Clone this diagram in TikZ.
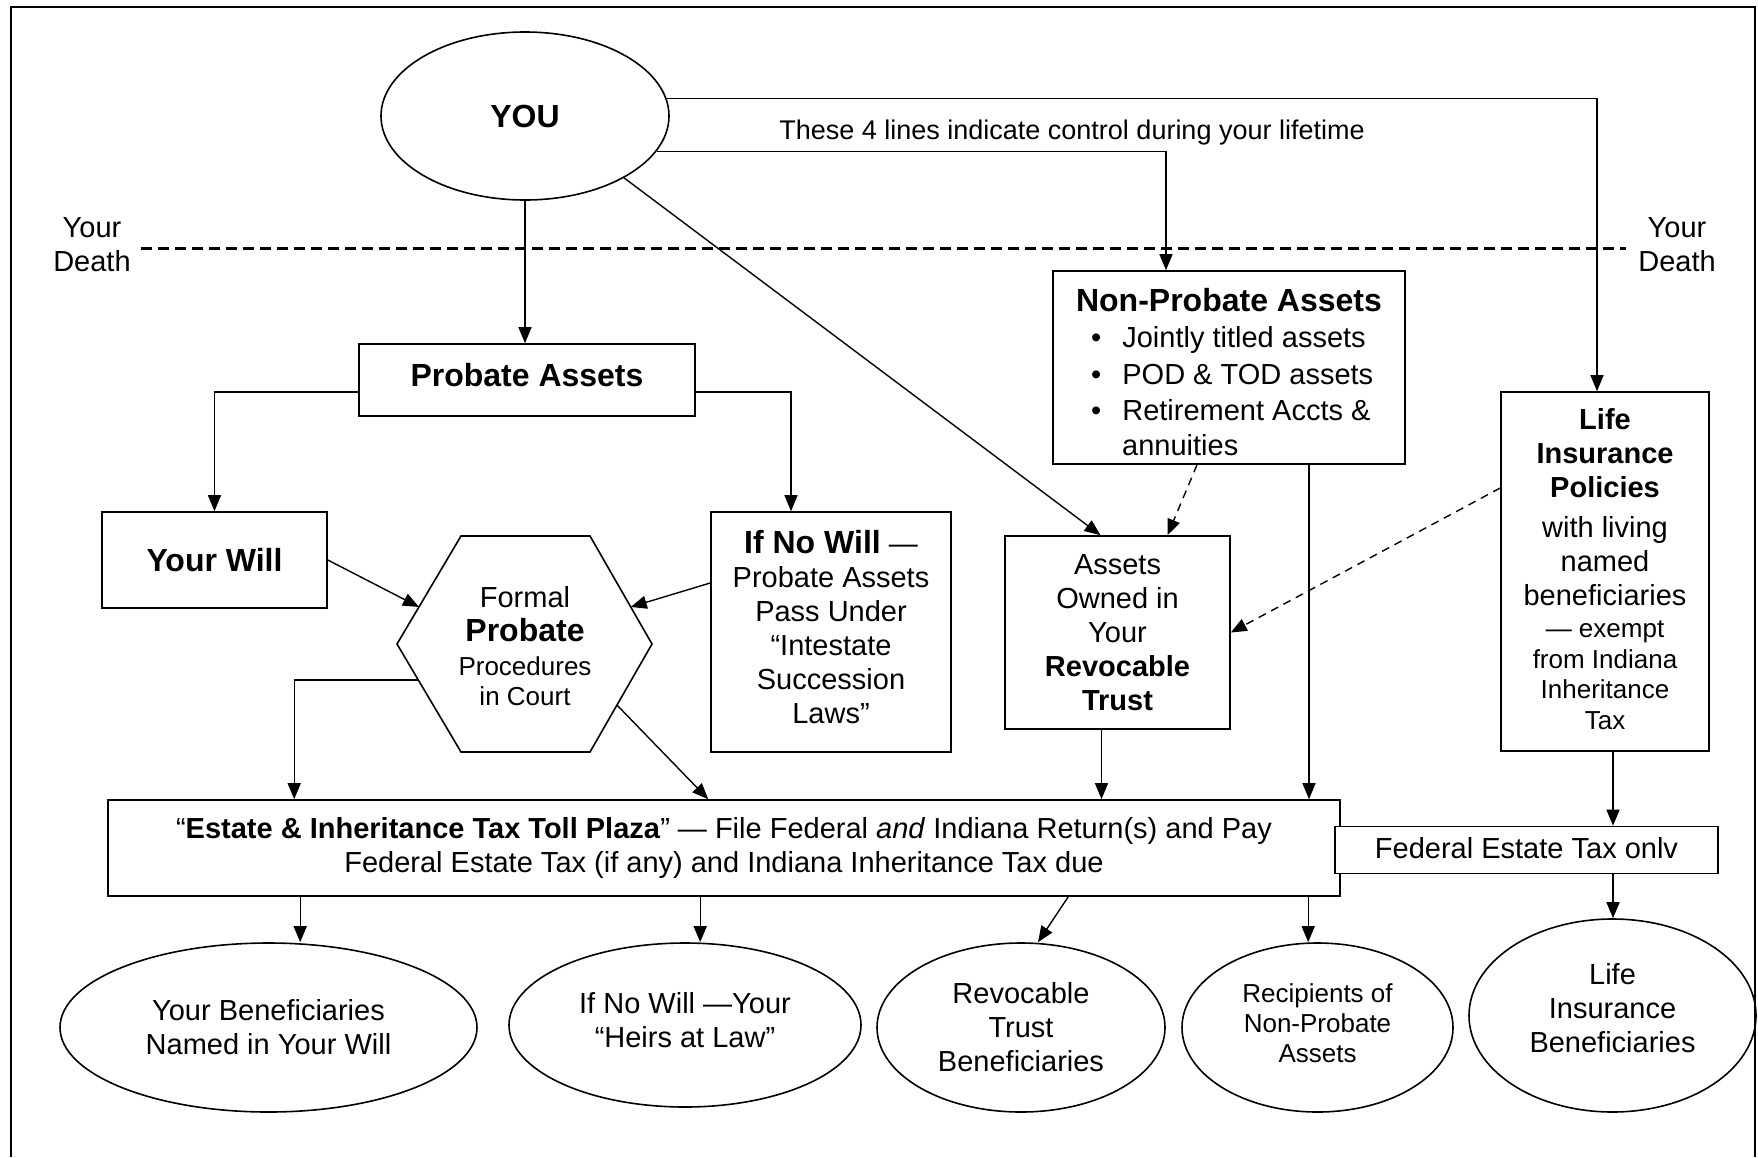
\documentclass[tikz,border=0pt]{standalone}
\usepackage{fontspec}
\setmainfont{Liberation Sans}
\usetikzlibrary{shapes.geometric,arrows.meta,calc}
\newcommand\szA{\fontsize{29}{34}\selectfont}
\newcommand\szB{\fontsize{32}{36}\selectfont}
\newcommand\szC{\fontsize{26}{30}\selectfont}
\newcommand\szD{\fontsize{27}{32}\selectfont}
\begin{document}
\begin{tikzpicture}[x=1pt,y=-1pt,
  box/.style={draw,line width=1.6pt,inner sep=0pt,align=center,fill=white,font=\szA},
  oval/.style={draw,ellipse,line width=1.6pt,inner sep=0pt,align=center,font=\szA},
  conn/.style={line width=1.4pt,-{Triangle[length=16pt,width=13pt]}},
  dconn/.style={line width=1.4pt,dash pattern=on 8pt off 6pt,-{Triangle[length=16pt,width=13pt]}},
  txt/.style={inner sep=0pt,font=\szA}]
\useasboundingbox (0,0) rectangle (1758,1157);
% frame
\draw[line width=2.4pt] (11,1157) -- (11,7) -- (1755,7) -- (1755,1157);

% YOU
\node[oval,minimum width=288pt,minimum height=168pt,font=\szB\bfseries] (you) at (525,116) {YOU};
\node[txt,font=\szD] (lbl) at (1072,133) {These 4 lines indicate control during your lifetime};

% death line
\coordinate (dl) at (141,248);
\coordinate (dr) at (1626,248);
\draw[line width=3pt,dash pattern=on 11pt off 6pt] (dl) -- (dr);
\node[txt,align=center] (ydl) at (92,245) {Your\\Death};
\node[txt,align=center] (ydr) at (1677,245) {Your\\Death};

% probate side
\node[box,minimum width=336pt,minimum height=72pt,font=\szB\bfseries,text depth=11pt] (pa) at (527,380) {Probate Assets};
\node[box,minimum width=225pt,minimum height=96pt,font=\szB\bfseries] (yw) at (214.5,560) {Your Will};
\node[box,minimum width=240pt,minimum height=240pt,text depth=10pt] (nw) at (831,632)
  {{\szB\bfseries If No Will} —\\Probate Assets\\Pass Under\\“Intestate\\Succession\\Laws”};

% hexagon
\coordinate (hl) at (397,644);
\coordinate (htl) at (461,536);
\coordinate (htr) at (590,536);
\coordinate (hr) at (652,644);
\coordinate (hbr) at (590,752);
\coordinate (hbl) at (461,752);
\draw[line width=1.6pt] (hl) -- (htl) -- (htr) -- (hr) -- (hbr) -- (hbl) -- cycle;
\node[txt,align=center] (hex) at (525,646)
  {Formal\\{\szB\bfseries Probate}\\{\szC Procedures}\\[-4pt]{\szC in Court}};

% non-probate
\node[box,minimum width=352pt,minimum height=193pt] (np) at (1229,367.5) {};
\node[txt,font=\szB\bfseries] (npt) at (1229,300) {Non-Probate Assets};
\node[txt,anchor=west] (npb1) at (1091,340) {•\hspace{21pt}Jointly titled assets};
\node[txt,anchor=west] (npb2) at (1091,375) {•\hspace{21pt}POD \& TOD assets};
\node[txt,anchor=west] (npb3) at (1091,410) {•\hspace{21pt}Retirement Accts \&};
\node[txt,anchor=west] (npb4) at (1122,445) {annuities};

% revocable trust
\node[box,minimum width=225pt,minimum height=193pt] (rt) at (1117.5,632.5)
  {Assets\\Owned in\\Your\\\textbf{Revocable}\\\textbf{Trust}};

% life insurance
\node[box,minimum width=208pt,minimum height=359pt,text depth=6pt] (li) at (1605,571.5)
  {\textbf{Life}\\\textbf{Insurance}\\\textbf{Policies}\\[6pt]with living\\named\\beneficiaries\\[-2pt]{\szC — exempt}\\[-3pt]{\szC from Indiana}\\[-4pt]{\szC Inheritance}\\[-3pt]{\szC Tax}};

% tax boxes
\node[box,minimum width=1232pt,minimum height=96pt] (tax) at (724,848)
  {“\textbf{Estate \& Inheritance Tax Toll Plaza}” — File Federal \textit{and} Indiana Return(s) and Pay\\Federal Estate Tax (if any) and Indiana Inheritance Tax due};
\node[box,minimum width=383pt,minimum height=47pt,text depth=4pt] (fed) at (1526.5,850) {Federal Estate Tax onlv};

% bottom ellipses
\node[oval,minimum width=417pt,minimum height=169pt] (e1) at (268.5,1027.5) {Your Beneficiaries\\Named in Your Will};
\node[oval,minimum width=352pt,minimum height=164pt,text depth=11pt] (e2) at (685,1025) {If No Will —Your\\“Heirs at Law”};
\node[oval,minimum width=288pt,minimum height=169pt] (e3) at (1021,1027.5) {Revocable\\Trust\\Beneficiaries};
\node[oval,minimum width=271pt,minimum height=169pt,font=\szC,text depth=9pt] (e4) at (1317.5,1027.5) {Recipients of\\Non-Probate\\Assets};
\node[oval,minimum width=287pt,minimum height=193pt,text depth=16pt] (e5) at (1612.5,1015.5) {Life\\Insurance\\Beneficiaries};

% connectors from YOU
\draw[conn] (you.7) -| ($(li.north)+(-8,0)$);
\draw[conn] (you.-15.5) -| ($(np.north)+(-63,0)$);
\draw[conn] (you.-32) -- ($(rt.north)+(-17,0)$);
\draw[conn] (you.south) -- (you.south |- pa.north);

% probate
\draw[conn] ($(pa.west)+(0,12)$) -| (yw.north);
\draw[conn] ($(pa.east)+(0,12)$) -| ($(nw.north)+(-40,0)$);
\draw[conn] (yw.east) -- ($(hl)!0.343!(htl)$);
\draw[conn] ($(nw.west)+(0,-49)$) -- ($(hr)!0.343!(htr)$);
\draw[conn] ($(hl)!0.333!(hbl)$) -| ($(tax.north west)+(187,0)$);
\draw[conn] ($(hr)!0.565!(hbr)$) -- ($(tax.north west)+(601,0)$);

% non-probate / trust / life
\draw[dconn] ($(np.south)+(-32,0)$) -- ($(rt.north)+(50,0)$);
\draw[dconn] ($(li.west)+(0,-83.5)$) -- (rt.east);
\coordinate (rtb) at ($(rt.south)+(-16,0)$);
\draw[conn] (rtb) -- (rtb |- tax.north);
\coordinate (npb) at ($(np.south)+(80,0)$);
\draw[conn] (npb) -- (npb |- tax.north);
\coordinate (lib) at ($(li.south)+(8,0)$);
\draw[conn] (lib) -- (lib |- fed.north);

% to beneficiaries
\coordinate (t1) at ($(tax.south west)+(193,0)$);
\draw[conn] (t1) -- (t1 |- e1.north);
\coordinate (t2) at ($(tax.south west)+(593,0)$);
\draw[conn] (t2) -- (t2 |- e2.north);
\draw[conn] ($(tax.south west)+(961,0)$) -- ($(e3.north)+(17,0)$);
\coordinate (t4) at ($(tax.south west)+(1201,0)$);
\draw[conn] (t4) -- (t4 |- e4.north);
\coordinate (f5) at ($(fed.south)+(86.5,0)$);
\draw[conn] (f5) -- (f5 |- e5.north);
\end{tikzpicture}
\end{document}
